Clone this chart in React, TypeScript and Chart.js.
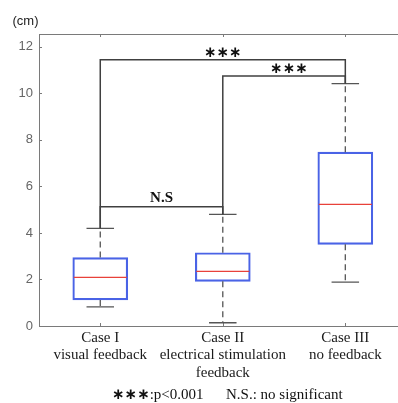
import { useEffect, useRef } from "react";
import { Chart, registerables } from "chart.js";

Chart.register(...registerables);

// ---- data ----
const categories: string[][] = [
  ["Case I", "visual feedback"],
  ["Case II", "electrical stimulation", "feedback"],
  ["Case III", "no feedback"],
];
const positions = [1, 2, 3];
const whiskerLow = [0.82, 0.14, 1.89];
const q1 = [1.12, 1.92, 3.51];
const medians = [2.09, 2.35, 5.23];
const q3 = [2.94, 3.15, 7.47];
const whiskerHigh = [4.2, 4.8, 10.42];
const yTicks = [0, 2, 4, 6, 8, 10, 12];
const yUnit = "(cm)";

// significance brackets
const bracketFrom = [1, 2, 1];
const bracketTo = [3, 3, 2];
const bracketLevel = [11.44, 10.74, 5.13];
const bracketLabels = ["∗∗∗", "∗∗∗", "N.S"];
const bracketLabelX = [2.0, 2.54, 1.5];

const footStars = "∗∗∗";
const footP = ":p<0.001";
const footNS = "N.S.: no significant";

// ---- styles ----
const BOX_COLOR = "#4a63e6";
const MEDIAN_COLOR = "#e8413a";
const WHISKER_COLOR = "#555555";
const BRACKET_COLOR = "#404040";
const AXIS_COLOR = "#7a7a7a";
const BOX_WIDTH = 55;

const extrasPlugin = {
  id: "boxExtras",
  afterDatasetsDraw(chart: any) {
    const { ctx, chartArea } = chart;
    const x = chart.scales.x;
    const y = chart.scales.y;
    ctx.save();

    // top axis line + inward tick marks
    ctx.strokeStyle = AXIS_COLOR;
    ctx.lineWidth = 1;
    ctx.beginPath();
    ctx.moveTo(chartArea.left, chartArea.top + 0.5);
    ctx.lineTo(chartArea.right, chartArea.top + 0.5);
    positions.forEach((p) => {
      const px = Math.round(x.getPixelForValue(p)) + 0.5;
      ctx.moveTo(px, chartArea.top);
      ctx.lineTo(px, chartArea.top + 3);
      ctx.moveTo(px, chartArea.bottom);
      ctx.lineTo(px, chartArea.bottom - 3);
    });
    yTicks.forEach((v) => {
      const py = Math.round(y.getPixelForValue(v)) + 0.5;
      ctx.moveTo(chartArea.left, py);
      ctx.lineTo(chartArea.left + 3, py);
    });
    ctx.stroke();

    // whiskers
    positions.forEach((p, i) => {
      const px = x.getPixelForValue(p);
      const half = BOX_WIDTH / 4;
      ctx.strokeStyle = WHISKER_COLOR;
      ctx.lineWidth = 1.3;
      ctx.setLineDash([6, 4]);
      ctx.beginPath();
      ctx.moveTo(px, y.getPixelForValue(q3[i]));
      ctx.lineTo(px, y.getPixelForValue(whiskerHigh[i]));
      ctx.moveTo(px, y.getPixelForValue(q1[i]));
      ctx.lineTo(px, y.getPixelForValue(whiskerLow[i]));
      ctx.stroke();
      ctx.setLineDash([]);
      ctx.beginPath();
      const hy = y.getPixelForValue(whiskerHigh[i]);
      const ly = y.getPixelForValue(whiskerLow[i]);
      ctx.moveTo(px - half, hy);
      ctx.lineTo(px + half, hy);
      ctx.moveTo(px - half, ly);
      ctx.lineTo(px + half, ly);
      ctx.stroke();
      // median
      ctx.strokeStyle = MEDIAN_COLOR;
      ctx.lineWidth = 1.3;
      ctx.beginPath();
      const my = y.getPixelForValue(medians[i]);
      ctx.moveTo(px - BOX_WIDTH / 2 + 1, my);
      ctx.lineTo(px + BOX_WIDTH / 2 - 1, my);
      ctx.stroke();
    });

    // brackets
    ctx.strokeStyle = BRACKET_COLOR;
    ctx.lineWidth = 1.5;
    bracketLevel.forEach((lvl, b) => {
      const ly = y.getPixelForValue(lvl);
      const ia = positions.indexOf(bracketFrom[b]);
      const ib = positions.indexOf(bracketTo[b]);
      const xa = x.getPixelForValue(bracketFrom[b]);
      const xb = x.getPixelForValue(bracketTo[b]);
      ctx.beginPath();
      ctx.moveTo(xa, y.getPixelForValue(whiskerHigh[ia]));
      ctx.lineTo(xa, ly);
      ctx.lineTo(xb, ly);
      ctx.lineTo(xb, y.getPixelForValue(whiskerHigh[ib]));
      ctx.stroke();
      const lx = x.getPixelForValue(bracketLabelX[b]);
      ctx.fillStyle = "#111";
      ctx.textAlign = "center";
      ctx.textBaseline = "middle";
      if (bracketLabels[b].startsWith("∗")) {
        ctx.font = "bold 15px 'DejaVu Sans'";
        ctx.fillText(bracketLabels[b], lx, ly - 7);
      } else {
        ctx.font = "bold 15px 'Liberation Serif'";
        ctx.fillText(bracketLabels[b], lx, ly - 9);
      }
    });

    // unit label
    ctx.fillStyle = "#222";
    ctx.font = "13px 'Liberation Sans'";
    ctx.textAlign = "left";
    ctx.textBaseline = "middle";
    ctx.fillText(yUnit, 12.5, 21);

    // footnote
    ctx.fillStyle = "#111";
    ctx.font = "bold 15px 'DejaVu Sans'";
    ctx.fillText(footStars, 112, 395);
    const sw = ctx.measureText(footStars).width;
    ctx.font = "15px 'Liberation Serif'";
    ctx.fillText(footP, 112 + sw, 395);
    ctx.fillText(footNS, 226, 395);

    ctx.restore();
  },
};

export default function App() {
  const ref = useRef<HTMLCanvasElement>(null);
  useEffect(() => {
    if (!ref.current) return;
    const chart = new Chart(ref.current, {
      type: "bar",
      data: {
        datasets: [
          {
            data: positions.map((p, i) => ({ x: p, y: [q1[i], q3[i]] })) as any,
            barThickness: BOX_WIDTH,
            borderColor: BOX_COLOR,
            borderWidth: 1.5,
            backgroundColor: "rgba(0,0,0,0)",
            borderSkipped: false,
          },
        ],
      },
      options: {
        animation: false,
        responsive: false,
        maintainAspectRatio: false,
        layout: { padding: { top: 34, left: 0, right: 0, bottom: 0 } },
        plugins: { legend: { display: false }, tooltip: { enabled: false } },
        scales: {
          x: {
            type: "linear",
            min: 0.5,
            max: 3.43,
            offset: false,
            grid: { display: false, drawTicks: false, offset: false },
            border: { display: true, color: AXIS_COLOR, width: 1 },
            afterBuildTicks: (s: any) => {
              s.ticks = positions.map((v) => ({ value: v }));
            },
            afterFit: (s: any) => {
              s.height = 77;
            },
            ticks: {
              autoSkip: false,
              maxRotation: 0,
              padding: 3,
              color: "#1a1a1a",
              font: { family: "'Liberation Serif'", size: 15, lineHeight: 1.17 },
              callback: (v: any) => {
                const i = positions.indexOf(Number(v));
                return i >= 0 ? categories[i] : "";
              },
            },
          },
          y: {
            min: 0,
            max: 12.55,
            grid: { display: false, drawTicks: false },
            border: { display: true, color: AXIS_COLOR, width: 1 },
            afterBuildTicks: (s: any) => {
              s.ticks = yTicks.map((v) => ({ value: v }));
            },
            afterFit: (s: any) => {
              s.width = 39;
            },
            ticks: {
              padding: 6,
              color: "#666",
              font: { family: "'Liberation Sans'", size: 13 },
            },
          },
        },
      },
      plugins: [extrasPlugin],
    });
    return () => chart.destroy();
  }, []);
  return (
    <div style={{ position: "absolute", left: 0, top: 0, width: 398, height: 403 }}>
      <canvas ref={ref} width={398} height={403} />
    </div>
  );
}
